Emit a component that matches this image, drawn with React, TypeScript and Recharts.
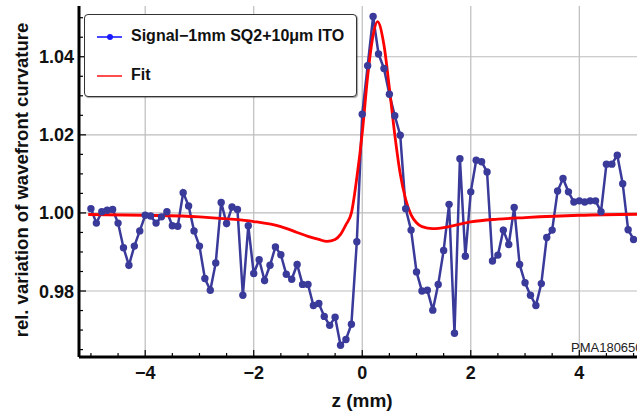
import React from 'react';
import { LineChart, Line, XAxis, YAxis, ReferenceLine } from 'recharts';

// measured signal, z in mm
const zValues = [
  -5.0, -4.9, -4.8, -4.7, -4.6, -4.5, -4.4, -4.3, -4.2, -4.1,
  -4.0, -3.9, -3.8, -3.7, -3.6, -3.5, -3.4, -3.3, -3.2, -3.1,
  -3.0, -2.9, -2.8, -2.7, -2.6, -2.5, -2.4, -2.3, -2.2, -2.1,
  -2.0, -1.9, -1.8, -1.7, -1.6, -1.5, -1.4, -1.3, -1.2, -1.1,
  -1.0, -0.9, -0.8, -0.7, -0.6, -0.5, -0.4, -0.3, -0.2, -0.1,
  0.0, 0.1, 0.2, 0.3, 0.4, 0.5, 0.6, 0.7, 0.8, 0.9,
  1.0, 1.1, 1.2, 1.3, 1.4, 1.5, 1.6, 1.7, 1.8, 1.9,
  2.0, 2.1, 2.2, 2.3, 2.4, 2.5, 2.6, 2.7, 2.8, 2.9,
  3.0, 3.1, 3.2, 3.3, 3.4, 3.5, 3.6, 3.7, 3.8, 3.9,
  4.0, 4.1, 4.2, 4.3, 4.4, 4.5, 4.6, 4.7, 4.8, 4.9, 5.0,
];
const signalValues = [
  1.0011, 0.9974, 1.0003, 1.0007, 1.0009, 0.9974, 0.9911, 0.9866, 0.9915, 0.9954,
  0.9994, 0.9992, 0.9974, 0.999, 1.0003, 0.9967, 0.9966, 1.0052, 1.0018, 0.9954,
  0.9915, 0.9832, 0.9802, 0.9872, 1.0027, 0.9973, 1.0015, 1.0009, 0.9789, 0.9967,
  0.9845, 0.988, 0.9827, 0.9866, 0.9913, 0.9893, 0.9843, 0.983, 0.9868, 0.9817,
  0.9817, 0.9763, 0.9768, 0.9735, 0.9712, 0.9733, 0.9661, 0.9676, 0.9715, 0.9926,
  1.0253, 1.0377, 1.0503, 1.0407, 1.037, 1.0304, 1.0249, 1.0199, 1.0011, 0.9956,
  0.9849, 0.98, 0.9802, 0.9751, 0.9817, 0.9904, 1.0022, 0.9692, 1.0139, 0.9889,
  1.0054, 1.0135, 1.0131, 1.0105, 0.9877, 0.9892, 0.9956, 0.9919, 1.0014, 0.9868,
  0.9821, 0.9789, 0.9763, 0.9819, 0.9937, 0.9956, 1.0056, 1.0088, 1.0054, 1.0028,
  1.0031, 1.0028, 1.0031, 1.0031, 1.0003, 1.0125, 1.0125, 1.0148, 1.0075, 0.9957, 0.9932,
];

// fit curve
const fitZ = [
  -5.05, -4.0, -3.0, -2.5, -2.0, -1.5, -1.2, -1.0, -0.8, -0.65, -0.5, -0.4, -0.3, -0.2, -0.1,
  0.0, 0.1, 0.2, 0.28, 0.4, 0.5, 0.6, 0.7, 0.8, 0.9, 1.0, 1.1, 1.3, 1.6, 2.0, 2.5, 3.0, 4.0, 5.3,
];
const fitValues = [
  0.9996, 0.9994, 0.999, 0.9985, 0.9978, 0.9965, 0.995, 0.994, 0.9932, 0.9927, 0.9932, 0.9945, 0.997, 1.0, 1.009,
  1.0205, 1.035, 1.0455, 1.049, 1.043, 1.032, 1.02, 1.01, 1.0035, 0.9995, 0.9975, 0.9965, 0.996, 0.9965, 0.9977, 0.9984, 0.9988, 0.9994, 0.9997,
];

const xMajor = [-4, -2, 0, 2, 4];
const xMinor = [-5, -4.5, -3.5, -3, -2.5, -1.5, -1, -0.5, 0.5, 1, 1.5, 2.5, 3, 3.5, 4.5, 5];
const yMajor = [0.98, 1.0, 1.02, 1.04];
const yMinor = [0.965, 0.97, 0.975, 0.985, 0.99, 0.995, 1.005, 1.01, 1.015, 1.025, 1.03, 1.035, 1.045, 1.05];

const signalData = zValues.map((z, i) => ({ z, v: signalValues[i] }));
const fitData = fitZ.map((z, i) => ({ z, v: fitValues[i] }));

const FONT = '"Liberation Sans", Arial, sans-serif';
const NAVY = '#3a3a9a';

const BottomTick = (props: any) => {
  const { x, y, payload } = props;
  const major = xMajor.includes(payload.value);
  const label = payload.value < 0 ? '\u2212' + Math.abs(payload.value) : String(payload.value);
  return (
    <g>
      <line x1={x} x2={x} y1={y} y2={y - (major ? 7 : 4)} stroke="#000" strokeWidth={1.2} />
      {major && (
        <text x={x} y={y + 22} textAnchor="middle" fontFamily={FONT} fontWeight="bold" fontSize={18} fill="#111">
          {label}
        </text>
      )}
    </g>
  );
};

const TopTick = (props: any) => {
  const { x, y, payload } = props;
  const major = xMajor.includes(payload.value);
  return <line x1={x} x2={x} y1={y} y2={y + (major ? 7 : 4)} stroke="#000" strokeWidth={1.2} />;
};

const LeftTick = (props: any) => {
  const { x, y, payload } = props;
  const major = yMajor.some((t) => Math.abs(t - payload.value) < 1e-9);
  return (
    <g>
      <line x1={x} x2={x + (major ? 7 : 4)} y1={y} y2={y} stroke="#000" strokeWidth={1.2} />
      {major && (
        <text x={x - 5} y={y + 6.5} textAnchor="end" fontFamily={FONT} fontWeight="bold" fontSize={18} fill="#111">
          {payload.value.toFixed(2)}
        </text>
      )}
    </g>
  );
};

export default function App() {
  return (
    <div style={{ position: 'fixed', left: 0, top: 0, width: 637, height: 411, overflow: 'hidden', background: '#fff' }}>
      <LineChart width={660} height={411} margin={{ top: 6, right: 14.5, left: 0, bottom: 0 }}>
        {xMajor.map((v) => (
          <ReferenceLine key={'gx' + v} x={v} stroke="#bdbdbd" strokeWidth={1.2} />
        ))}
        {yMajor.map((v) => (
          <ReferenceLine key={'gy' + v} y={v} stroke="#bdbdbd" strokeWidth={1.2} />
        ))}
        <XAxis
          dataKey="z"
          type="number"
          domain={[-5.22, 5.22]}
          allowDataOverflow
          ticks={[...xMajor, ...xMinor].sort((a, b) => a - b)}
          interval={0}
          height={54}
          tickSize={0}
          tickMargin={0}
          tickLine={false}
          tick={<BottomTick />}
          axisLine={{ stroke: '#000', strokeWidth: 3 }}
        />
        <XAxis
          xAxisId="top"
          orientation="top"
          dataKey="z"
          type="number"
          domain={[-5.22, 5.22]}
          allowDataOverflow
          ticks={[...xMajor, ...xMinor].sort((a, b) => a - b)}
          interval={0}
          height={0}
          tickSize={0}
          tickMargin={0}
          tickLine={false}
          tick={<TopTick />}
          axisLine={{ stroke: '#000', strokeWidth: 3 }}
        />
        <YAxis
          type="number"
          domain={[0.9631, 1.053]}
          allowDataOverflow
          ticks={[...yMajor, ...yMinor].sort((a, b) => a - b)}
          interval={0}
          width={79}
          tickSize={0}
          tickMargin={0}
          tickLine={false}
          tick={<LeftTick />}
          axisLine={{ stroke: '#000', strokeWidth: 3 }}
        />
        <Line
          data={signalData}
          dataKey="v"
          name="Signal"
          type="linear"
          stroke={NAVY}
          strokeWidth={2.5}
          dot={{ r: 3.7, fill: NAVY, stroke: NAVY, strokeWidth: 0 }}
          isAnimationActive={false}
        />
        <Line
          data={fitData}
          dataKey="v"
          name="Fit"
          type="monotone"
          stroke="#ff0000"
          strokeWidth={2.8}
          dot={false}
          isAnimationActive={false}
        />
      </LineChart>

      <svg width={637} height={411} style={{ position: 'absolute', left: 0, top: 0, pointerEvents: 'none' }}>
        <text
          transform="translate(22,180) rotate(-90)"
          textAnchor="middle"
          dy="0.35em"
          fontFamily={FONT}
          fontWeight="bold"
          fontSize={18.5}
          fill="#111"
        >
          rel. variation of wavefront curvature
        </text>
        <text x={362} y={407} textAnchor="middle" fontFamily={FONT} fontWeight="bold" fontSize={19} fill="#111">
          z (mm)
        </text>
        <text x={571} y={352} fontFamily={FONT} fontSize={13} fill="#222">
          PMA180650
        </text>
      </svg>

      <div
        style={{
          position: 'absolute',
          left: 84,
          top: 14,
          width: 271,
          height: 81,
          border: '1.5px solid #333',
          borderRadius: 4,
          background: '#fff',
          boxShadow: '1px 1px 1px rgba(0,0,0,0.35)',
          fontFamily: FONT,
          fontWeight: 'bold',
          fontSize: 16,
          color: '#111',
        }}
      >
        <svg width={30} height={80} style={{ position: 'absolute', left: 11, top: 0 }}>
          <line x1={1} x2={26} y1={22} y2={22} stroke="#1a1aff" strokeWidth={1.6} />
          <circle cx={14} cy={22} r={3} fill="#1a1aff" />
          <line x1={1} x2={26} y1={61} y2={61} stroke="#ff2020" strokeWidth={1.6} />
        </svg>
        <div style={{ position: 'absolute', left: 46, top: 12, whiteSpace: 'nowrap' }}>Signal−1mm SQ2+10μm ITO</div>
        <div style={{ position: 'absolute', left: 46, top: 51, whiteSpace: 'nowrap' }}>Fit</div>
      </div>
    </div>
  );
}
